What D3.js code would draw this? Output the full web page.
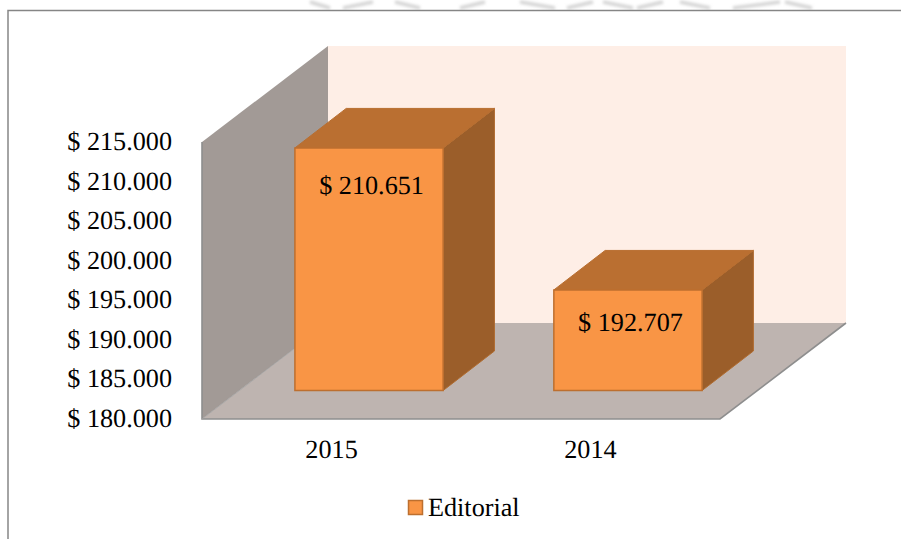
<!DOCTYPE html>
<html><head><meta charset="utf-8">
<script src="https://cdn.jsdelivr.net/npm/d3@7/dist/d3.min.js"></script>
<style>html,body{margin:0;padding:0;background:#fff}svg{display:block}text{font-family:"Liberation Serif",serif;fill:#000;text-rendering:geometricPrecision}</style>
</head><body><svg id="c" width="901" height="539"></svg>
<script>
const categories = ["2015","2014"];
const values = [210651,192707];
const seriesName = "Editorial";
const yTicks = [180000,185000,190000,195000,200000,205000,210000,215000];
// faint scan residue above the frame: [start x, end x]
const smudges = [[310,330],[343,373],[395,420],[460,485],[520,555],[567,593],[603,633],[637,663],[680,710],[733,780],[785,812]];
const fmt = v => "$ " + d3.format(",.0f")(v).replace(/,/g,".");

const svg = d3.select("#c");
const frameL=8, frameT=10.5, fontSize=26.2;
const x0=202,x1=720,yB=419,yT=142,depthX=126,depthY=96;
const y = d3.scaleLinear().domain([180000,215000]).range([yB,yT]);
const x = d3.scaleBand().domain(categories).range([x0,x1]).paddingInner(0.4275).paddingOuter(0.214).align(0.5);
const barDX=37.5,barDY=28.5,barBack=51.3,barBackY=39.5;
const labelDrop=[46,41], labelShift=2.5;
const line=d3.line();
const poly=(pts,fill,stroke,sw=1)=>svg.append("path").attr("d",line(pts)+"Z").attr("fill",fill).attr("stroke",stroke||"none").attr("stroke-width",sw);

const defs=svg.append("defs");
const soft=defs.append("filter").attr("id","soft").attr("filterUnits","userSpaceOnUse").attr("x",280).attr("y",-10).attr("width",560).attr("height",40);
soft.append("feGaussianBlur").attr("stdDeviation",1.5);
defs.append("clipPath").attr("id","topStrip").append("rect").attr("x",0).attr("y",0).attr("width",901).attr("height",10);
const sm=svg.append("g").attr("clip-path","url(#topStrip)").append("g").attr("filter","url(#soft)");
smudges.forEach(([a,b],i)=>sm.append("path")
  .attr("d",line(i%2?[[a,8],[b,2]]:[[a,2],[b,8]]))
  .attr("stroke","#d4d4d4").attr("stroke-width",3.5).attr("fill","none"));

svg.append("path").attr("d",`M${frameL},539V${frameT}H901`).attr("fill","none").attr("stroke","#868686").attr("stroke-width",1.5);

poly([[x0+depthX,yT-depthY],[x1+depthX,yT-depthY],[x1+depthX,yB-depthY],[x0+depthX,yB-depthY]],"#feeee6");
poly([[x0,yT],[x0+depthX,yT-depthY],[x0+depthX,yB-depthY],[x0,yB]],"#a29a96");
poly([[x0,yB],[x0+depthX,yB-depthY],[x1+depthX,yB-depthY],[x1,yB]],"#beb4b0");
svg.append("path").attr("d",line([[x0,yT],[x0,yB],[x1,yB],[x1+depthX,yB-depthY]])).attr("fill","none").attr("stroke","#8e8e8e").attr("stroke-width",1.6);
svg.append("path").attr("d",line([[x0,yB],[x0+depthX,yB-depthY]])).attr("fill","none").attr("stroke","#a0a0a0").attr("stroke-width",.8);

categories.forEach((c,i)=>{
  const l=x(c)+barDX, r=l+x.bandwidth(), t=y(values[i])-barDY, b=yB-barDY;
  poly([[r,t],[r+barBack,t-barBackY],[r+barBack,b-barBackY],[r,b]],"#9b5e2a","#b06c30");
  poly([[l,t],[l+barBack,t-barBackY],[r+barBack,t-barBackY],[r,t]],"#ba6f31","#b86e30");
  poly([[l,t],[r,t],[r,b],[l,b]],"#f99545","#bd6f2f",1.5);
  svg.append("text").attr("x",(l+r)/2+labelShift).attr("y",t+labelDrop[i]).attr("text-anchor","middle").attr("font-size",fontSize).text(fmt(values[i]));
  svg.append("text").attr("x",x(c)+x.bandwidth()/2).attr("y",458).attr("text-anchor","middle").attr("font-size",fontSize).text(c);
});

yTicks.forEach(v=>svg.append("text").attr("x",172).attr("y",y(v)+8).attr("text-anchor","end").attr("font-size",fontSize).text(fmt(v)));

svg.append("rect").attr("x",408.5).attr("y",500.5).attr("width",14).attr("height",14).attr("fill","#f99545").attr("stroke","#bd6f2f").attr("stroke-width",1.5);
svg.append("text").attr("x",428).attr("y",516).attr("font-size",fontSize).text(seriesName);
</script></body></html>
